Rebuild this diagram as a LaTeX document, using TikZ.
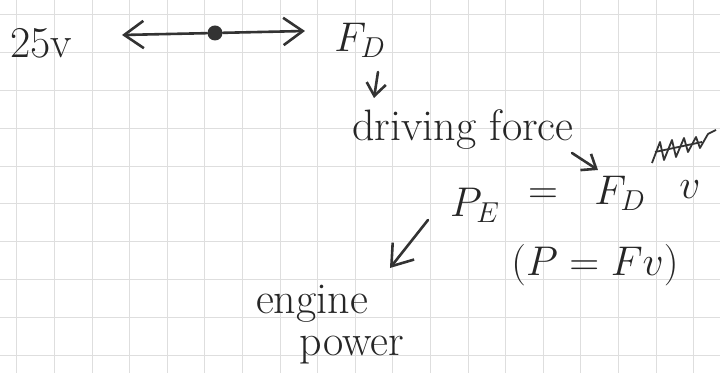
\documentclass[tikz,border=0pt]{standalone}
\usepackage{tikz}
\usetikzlibrary{arrows.meta}
\tikzset{
  ink/.style={draw=black!80,line width=1.3pt,line cap=round,line join=round},
  arr/.style={ink,-{Straight Barb[length=3.4mm,width=4.8mm]}},
  sarr/.style={ink,-{Straight Barb[length=2.2mm,width=3.4mm]}},
  gridln/.style={draw=black!13,line width=.5pt},
  hw/.style={text=black!85,font=\fontsize{22}{26}\selectfont,inner sep=1pt},
  dot/.style={circle,fill=black!80,minimum size=7.5pt,inner sep=0pt},
  scrib/.style={draw=black!80,line width=.9pt,line join=round},
}

\begin{document}
\begin{tikzpicture}[x=0.5pt,y=-0.5pt]
\useasboundingbox (0,0) rectangle (720,373);
% squared paper
\foreach \i in {0,...,18} \draw[gridln] ({17+37.6*\i},0) -- ({17+37.6*\i},373);
\foreach \j in {0,...,9} \draw[gridln] (0,{15+37.8*\j}) -- (720,{15+37.8*\j});
% the top line
\node[hw] (spd) at (41,43) {25v};
\node[dot] (obj) at (215,33) {};
\coordinate (lt) at (122,35);
\coordinate (rt) at (305,31);
\draw[arr] (obj) -- (lt);
\draw[arr] (obj) -- (rt);
\node[hw] (FD) at (360,40) {$F_D$};
% down to the driving force
\coordinate (d1) at (378,72); \coordinate (d2) at (374,98);
\draw[sarr] (d1) -- (d2);
\node[hw] (drive) at (463,130) {driving force};
% the equation
\node[hw] (PE) at (475,205) {$P_E$};
\node[hw] (eq) at (543,196) {$=$};
\node[hw] (FDb) at (620,193) {$F_D$};
\node[hw] (vel) at (690,190) {$v$};
\coordinate (f1) at (572,153); \coordinate (f2) at (598,170);
\draw[sarr] (f1) -- (f2);
\draw[scrib] (652,163) -- (660,142) -- (664,160) -- (672,140) -- (676,157)
  -- (684,138) -- (688,152) -- (696,137) -- (700,148) -- (708,134) -- (716,130);
\draw[scrib] (655,152) -- (702,142);
\node[hw] (form) at (595,265) {$(P = Fv)$};
% engine power
\coordinate (e1) at (428,220); \coordinate (e2) at (390,268);
\draw[arr] (e1) -- (e2);
\node[hw,inner sep=0pt] (eng) at (312,304) {engine};
\node[hw,inner sep=0pt] (pow) at (352,350) {power};
\end{tikzpicture}
\end{document}
